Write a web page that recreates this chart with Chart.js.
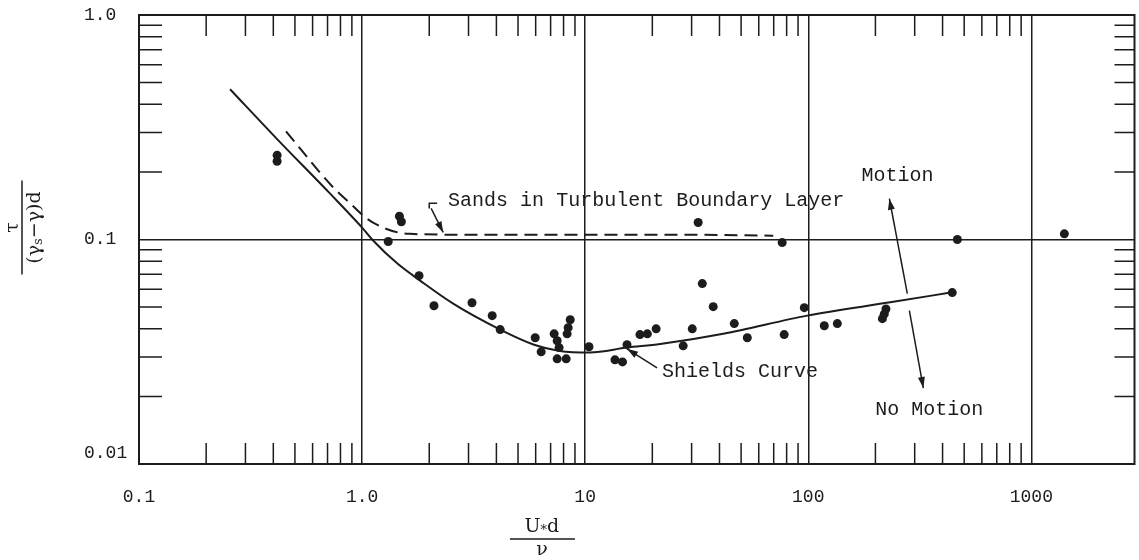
<!DOCTYPE html>
<html lang="en">
<head>
    <meta charset="UTF-8">
    <title>Shields Diagram</title>
    <script src="https://cdn.jsdelivr.net/npm/chart.js"></script>
    <style>
        body {
            margin: 0;
            background-color: #ffffff;
        }

        .chart-box {
            position: relative;
            width: 1139px;
            height: 560px;
        }
    </style>
</head>
<body>

<div class="chart-box">
    <canvas id="shieldsChart"></canvas>
</div>

<script>
// measured points: U*d/nu  and  tau/((gamma_s - gamma) d)
const pointRe = [0.416, 0.416, 1.31, 1.47, 1.50, 1.80, 2.10, 3.11, 3.83, 4.16,
    5.97, 6.35, 7.26, 7.49, 7.64, 7.49, 8.22, 8.30, 8.39, 8.57,
    10.4, 13.6, 14.7, 15.4, 17.6, 19.0, 20.8, 27.5, 30.2, 32.1,
    33.5, 37.5, 46.6, 53.3, 76.4, 78.0, 96.0, 118, 135, 215,
    219, 223, 442, 466, 1406];
const pointTau = [0.237, 0.223, 0.098, 0.127, 0.120, 0.069, 0.0507, 0.0523, 0.0458, 0.0397,
    0.0365, 0.0316, 0.038, 0.0354, 0.033, 0.0294, 0.0294, 0.038, 0.0405, 0.0439,
    0.0333, 0.0291, 0.0285, 0.034, 0.0377, 0.038, 0.040, 0.0336, 0.040, 0.119,
    0.0636, 0.0502, 0.0422, 0.0365, 0.097, 0.0377, 0.0497, 0.0413, 0.0422, 0.0444,
    0.0465, 0.049, 0.058, 0.100, 0.106];

// Shields curve
const shieldsRe = [0.256, 0.416, 0.719, 1.0, 1.12, 1.44, 1.82, 2.56, 4.16, 5.9,
    7.7, 10.5, 15.4, 21.7, 41.6, 99, 233, 442];
const shieldsTau = [0.467, 0.280, 0.160, 0.113, 0.099, 0.0781, 0.0656, 0.0518, 0.0397, 0.034,
    0.0319, 0.0314, 0.033, 0.0342, 0.038, 0.0458, 0.0525, 0.0582];

// sands in turbulent boundary layer (dashed)
const sandsRe = [0.456, 0.741, 0.884, 1.05, 1.24, 1.48, 1.64, 3.0, 10, 30, 69.7];
const sandsTau = [0.303, 0.171, 0.145, 0.124, 0.113, 0.107, 0.106, 0.105, 0.105, 0.105, 0.104];

// axes
const xMajorTicks = [0.1, 1, 10, 100, 1000];
const xTickLabels = ['0.1', '1.0', '10', '100', '1000'];
const yMajorTicks = [0.01, 0.1, 1];
const yTickLabels = ['0.01', '0.1', '1.0'];
const xMin = 0.1, xMax = 2900;

// notes written on the plot, placed in data units
const notes = [
    { text: 'Sands in Turbulent Boundary Layer', x: 2.43, y: 0.149, align: 'left' },
    { text: 'Motion', x: 251, y: 0.193, align: 'center' },
    { text: 'No Motion', x: 349, y: 0.0174, align: 'center' },
    { text: 'Shields Curve', x: 22.1, y: 0.0257, align: 'left' }
];
const arrows = [
    { from: [278, 0.0574], to: [231, 0.152] },
    { from: [284, 0.0482], to: [328, 0.0218] },
    { from: [21.0, 0.0268], to: [15.4, 0.0326] },
    { from: [2.04, 0.1375], to: [2.31, 0.1075] }
];
const hookPath = [[2.17, 0.145], [2.0, 0.145], [2.0, 0.1375]];

const INK = '#1c1c1c';
const MONO = '"Liberation Mono", "DejaVu Sans Mono", monospace';
const SERIF = '"DejaVu Serif", "Liberation Serif", serif';

function toPoints(xs, ys) {
    return xs.map((x, i) => ({ x: x, y: ys[i] }));
}

// 1..9 steps inside every decade between the major ticks
function decadeTicks(majors) {
    const out = [];
    for (let i = 0; i < majors.length - 1; i++) {
        for (let k = 1; k <= 9; k++) {
            out.push({ value: majors[i] * k, major: k === 1 });
        }
    }
    out.push({ value: majors[majors.length - 1], major: true });
    return out;
}

function majorIndex(majors, value) {
    return majors.findIndex(m => Math.abs(Math.log10(value / m)) < 1e-6);
}

function drawArrow(ctx, x1, y1, x2, y2) {
    const ang = Math.atan2(y2 - y1, x2 - x1);
    ctx.beginPath();
    ctx.moveTo(x1, y1);
    ctx.lineTo(x2, y2);
    ctx.stroke();
    ctx.beginPath();
    ctx.moveTo(x2, y2);
    ctx.lineTo(x2 - 11 * Math.cos(ang) + 3.5 * Math.sin(ang), y2 - 11 * Math.sin(ang) - 3.5 * Math.cos(ang));
    ctx.lineTo(x2 - 11 * Math.cos(ang) - 3.5 * Math.sin(ang), y2 - 11 * Math.sin(ang) + 3.5 * Math.cos(ang));
    ctx.closePath();
    ctx.fill();
}

const paperPlugin = {
    id: 'paper',
    afterDraw(chart) {
        const ctx = chart.ctx;
        const area = chart.chartArea;
        const xs = chart.scales.x;
        const ys = chart.scales.y;
        ctx.save();
        ctx.strokeStyle = INK;
        ctx.fillStyle = INK;

        // frame
        ctx.lineWidth = 2;
        ctx.strokeRect(area.left, area.top, area.right - area.left, area.bottom - area.top);

        // inward minor ticks on all four sides
        ctx.lineWidth = 1.5;
        ctx.beginPath();
        xs.ticks.forEach(t => {
            if (t.major) return;
            const px = xs.getPixelForValue(t.value);
            ctx.moveTo(px, area.bottom);
            ctx.lineTo(px, area.bottom - 21);
            ctx.moveTo(px, area.top);
            ctx.lineTo(px, area.top + 21);
        });
        ys.ticks.forEach(t => {
            if (t.major) return;
            const py = ys.getPixelForValue(t.value);
            ctx.moveTo(area.left, py);
            ctx.lineTo(area.left + 23, py);
            ctx.moveTo(area.right, py);
            ctx.lineTo(area.right - 20, py);
        });
        ctx.stroke();

        // notes
        ctx.font = '20px ' + MONO;
        ctx.textBaseline = 'middle';
        notes.forEach(n => {
            ctx.textAlign = n.align;
            ctx.fillText(n.text, xs.getPixelForValue(n.x), ys.getPixelForValue(n.y));
        });

        ctx.lineWidth = 1.5;
        arrows.forEach(a => {
            drawArrow(ctx,
                xs.getPixelForValue(a.from[0]), ys.getPixelForValue(a.from[1]),
                xs.getPixelForValue(a.to[0]), ys.getPixelForValue(a.to[1]));
        });
        ctx.beginPath();
        hookPath.forEach((p, i) => {
            const px = xs.getPixelForValue(p[0]);
            const py = ys.getPixelForValue(p[1]);
            if (i === 0) ctx.moveTo(px, py); else ctx.lineTo(px, py);
        });
        ctx.stroke();

        // x title:  U*d over nu
        const cx = xs.getPixelForValue(6.4);
        const by = area.bottom + 75;
        ctx.font = '19px ' + SERIF;
        ctx.textAlign = 'left';
        const wU = ctx.measureText('U').width;
        const wd = ctx.measureText('d').width;
        ctx.font = '13px ' + SERIF;
        const wS = ctx.measureText('*').width;
        let sx = cx - (wU + wS + wd) / 2;
        ctx.font = '19px ' + SERIF;
        ctx.fillText('U', sx, by - 12);
        ctx.font = '13px ' + SERIF;
        ctx.fillText('*', sx + wU, by - 8);
        ctx.font = '19px ' + SERIF;
        ctx.fillText('d', sx + wU + wS, by - 12);
        ctx.lineWidth = 1.5;
        ctx.beginPath();
        ctx.moveTo(cx - 32, by);
        ctx.lineTo(cx + 33, by);
        ctx.stroke();
        ctx.textAlign = 'center';
        ctx.fillText('\u03bd', cx, by + 11);

        // y title:  tau over (gamma_s - gamma) d, turned on its side
        const ty = ys.getPixelForValue(0.113);
        ctx.translate(area.left - 117, ty);
        ctx.rotate(-Math.PI / 2);
        ctx.font = '19px ' + SERIF;
        ctx.textAlign = 'center';
        ctx.fillText('\u03c4', 0, -9);
        ctx.beginPath();
        ctx.moveTo(-47, 0);
        ctx.lineTo(47, 0);
        ctx.stroke();
        const parts = [['(\u03b3', 19, 0], ['s', 13, 4], ['\u2212\u03b3)d', 19, 0]];
        let total = 0;
        parts.forEach(p => { ctx.font = p[1] + 'px ' + SERIF; total += ctx.measureText(p[0]).width; });
        let dx = -total / 2;
        ctx.textAlign = 'left';
        parts.forEach(p => {
            ctx.font = p[1] + 'px ' + SERIF;
            ctx.fillText(p[0], dx, 13 + p[2]);
            dx += ctx.measureText(p[0]).width;
        });
        ctx.restore();
    }
};

const ctx = document.getElementById('shieldsChart').getContext('2d');

new Chart(ctx, {
    type: 'scatter',
    data: {
        datasets: [
            {
                label: 'Shields Curve',
                data: toPoints(shieldsRe, shieldsTau),
                showLine: true,
                borderColor: INK,
                borderWidth: 2,
                pointRadius: 0,
                cubicInterpolationMode: 'monotone'
            },
            {
                label: 'Sands in Turbulent Boundary Layer',
                data: toPoints(sandsRe, sandsTau),
                showLine: true,
                borderColor: INK,
                borderWidth: 2,
                borderDash: [13, 7],
                pointRadius: 0,
                cubicInterpolationMode: 'monotone'
            },
            {
                label: 'Data',
                data: toPoints(pointRe, pointTau),
                backgroundColor: INK,
                borderWidth: 0,
                pointRadius: 4.5
            }
        ]
    },
    options: {
        responsive: true,
        maintainAspectRatio: false,
        animation: false,
        layout: {
            padding: { left: 84, right: 4, top: 15, bottom: 0 }
        },
        plugins: {
            legend: { display: false },
            tooltip: { enabled: false }
        },
        scales: {
            x: {
                type: 'logarithmic',
                min: xMin,
                max: xMax,
                afterBuildTicks: s => { s.ticks = decadeTicks(xMajorTicks); },
                afterFit: s => { s.height = 96; },
                grid: {
                    drawTicks: false,
                    color: c => (c.tick && c.tick.major ? INK : 'rgba(0,0,0,0)'),
                    lineWidth: 1.5
                },
                border: { display: false },
                ticks: {
                    autoSkip: false,
                    maxRotation: 0,
                    padding: 22,
                    color: INK,
                    font: { family: MONO, size: 18 },
                    callback: function (value) {
                        const i = majorIndex(xMajorTicks, value);
                        return i >= 0 ? xTickLabels[i] : '';
                    }
                }
            },
            y: {
                type: 'logarithmic',
                min: yMajorTicks[0],
                max: yMajorTicks[yMajorTicks.length - 1],
                afterBuildTicks: s => { s.ticks = decadeTicks(yMajorTicks); },
                afterFit: s => { s.width = 55; },
                grid: {
                    drawTicks: false,
                    color: c => (c.tick && c.tick.major ? INK : 'rgba(0,0,0,0)'),
                    lineWidth: 1.5
                },
                border: { display: false },
                ticks: {
                    autoSkip: false,
                    crossAlign: 'far',
                    color: INK,
                    font: { family: MONO, size: 18 },
                    callback: function (value) {
                        const i = majorIndex(yMajorTicks, value);
                        if (i < 0) return '';
                        // bottom label sits a little higher, clear of the x labels
                        return i === 0 ? [yTickLabels[i], ''] : yTickLabels[i];
                    }
                }
            }
        }
    },
    plugins: [paperPlugin]
});
</script>

</body>
</html>
